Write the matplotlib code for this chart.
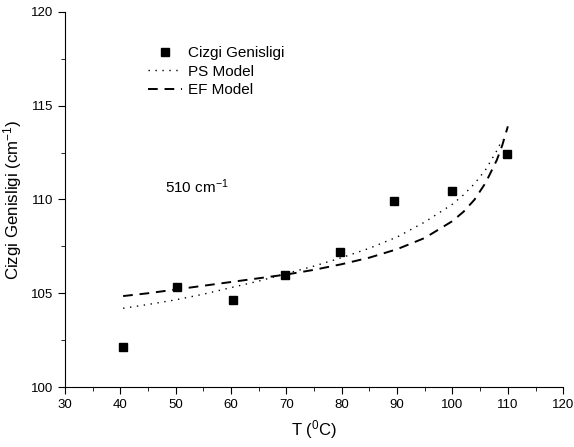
import matplotlib
matplotlib.use("Agg")
import matplotlib.pyplot as plt
from matplotlib.ticker import MultipleLocator

plt.rcParams["font.family"] = ["Liberation Sans", "DejaVu Sans"]
plt.rcParams["mathtext.default"] = "regular"

# measured line width vs temperature
temp = [40.5, 50.3, 60.3, 69.8, 79.6, 89.5, 99.9, 109.9]
width = [102.15, 105.35, 104.62, 106.0, 107.2, 109.92, 110.47, 112.4]

# PS model curve
ps_t = [40.5, 45, 50, 55, 60, 65, 70, 75, 80, 85, 90, 95, 100, 102, 104, 106, 108, 109]
ps_w = [104.2, 104.4, 104.65, 104.95, 105.3, 105.65, 106.05, 106.45, 106.9,
        107.4, 108.0, 108.8, 109.75, 110.25, 110.85, 111.6, 112.6, 113.2]

# EF model curve
ef_t = [40.5, 45, 50, 55, 60, 65, 70, 75, 80, 85, 90, 95, 100, 102, 104, 106, 108, 109, 110]
ef_w = [104.85, 105.0, 105.2, 105.4, 105.6, 105.8, 106.0, 106.25, 106.55, 106.9,
        107.35, 107.95, 108.85, 109.35, 110.0, 110.9, 112.1, 112.9, 113.9]

fig = plt.figure(figsize=(5.74, 4.47), dpi=100)
ax = fig.add_axes([0.1132, 0.1342, 0.868, 0.839])

ax.plot(temp, width, "s", color="black", markersize=5.5, label="Cizgi Genisligi")
ax.plot(ps_t, ps_w, color="black", lw=1.0, linestyle=(0, (1, 4)), label="PS Model")
ax.plot(ef_t, ef_w, color="black", lw=1.4, linestyle=(0, (5, 3.5)), label="EF Model")

ax.set_xlim(30, 120)
ax.set_ylim(100, 120)
ax.xaxis.set_major_locator(MultipleLocator(10))
ax.xaxis.set_minor_locator(MultipleLocator(5))
ax.yaxis.set_major_locator(MultipleLocator(5))
ax.yaxis.set_minor_locator(MultipleLocator(2.5))
ax.spines["top"].set_visible(False)
ax.spines["right"].set_visible(False)
ax.tick_params(which="major", length=5, labelsize=9.5)
ax.tick_params(which="minor", length=3)

ax.set_xlabel("T ($^0$C)", fontsize=12, labelpad=5)
ax.set_ylabel("Cizgi Genisligi (cm$^{-1}$)", fontsize=12.2, labelpad=5)

ax.text(48.0, 110.7, "510 cm$^{-1}$", fontsize=11, va="center")

ax.legend(loc="upper left", bbox_to_anchor=(0.155, 0.925), frameon=False,
          fontsize=11, handlelength=2.2, handletextpad=0.4, labelspacing=0.3,
          borderaxespad=0)

fig.savefig("out.png", dpi=100)
